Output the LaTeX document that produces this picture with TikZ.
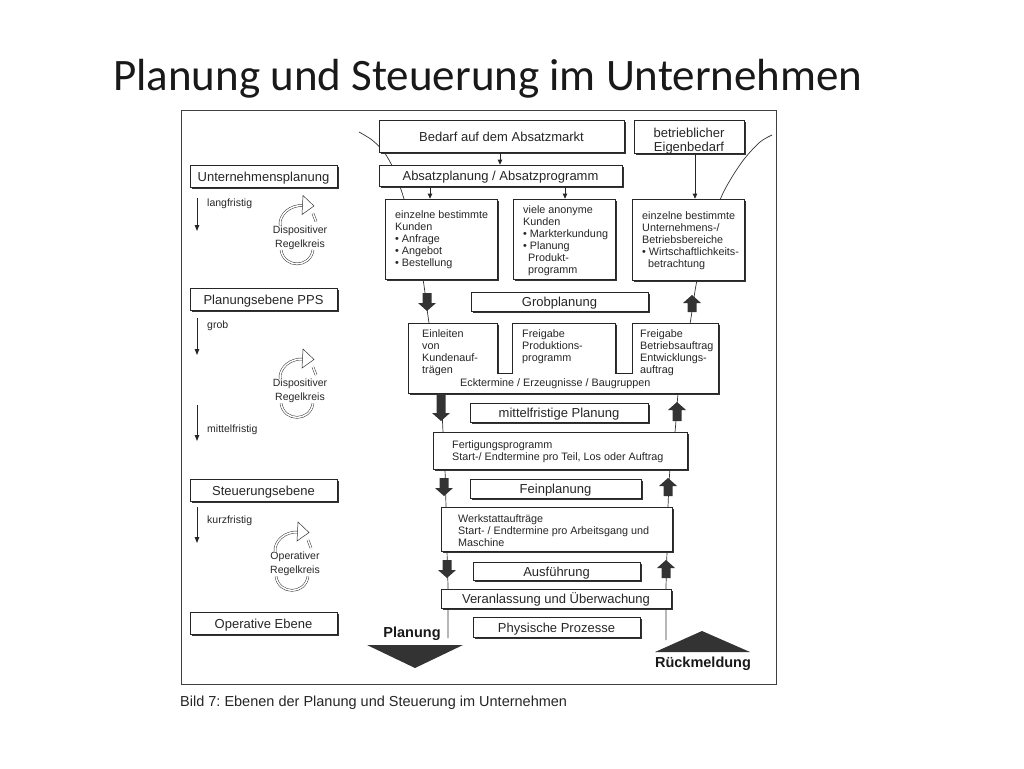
\documentclass[tikz,border=0pt]{standalone}
\usepackage{fontspec}
\setmainfont{Liberation Sans}
\newfontfamily\titlefont{Carlito}
\usetikzlibrary{arrows.meta,shadows}
\frenchspacing
\tikzset{
  box/.style={draw=black!85, line width=0.7pt, fill=white, inner sep=0pt,
    font=\fontsize{13}{14}\selectfont, text=black!85, text height=10.5pt, text depth=0pt,
    drop shadow={shadow xshift=1.8pt, shadow yshift=-1.8pt, fill=black!80, opacity=1}},
  lbl/.style={inner sep=0pt, anchor=west, align=left, text=black!85, font=\fontsize{10.8}{12}\selectfont},
  side/.style={inner sep=0pt, anchor=west, text=black!85, font=\fontsize{10.5}{12}\selectfont},
  cyctext/.style={inner sep=0pt, align=center, text=black!85, font=\fontsize{10.5}{14}\selectfont},
  funnel/.style={draw=black!80, line width=0.7pt},
  sarrow/.style={draw=black!85, line width=0.8pt, -{Triangle[length=5pt,width=4.5pt]}},
  larrow/.style={draw=black!85, line width=0.9pt, -{Triangle[length=6pt,width=4.5pt]}},
  blk/.style={fill=black!80},
  dbl/.style={draw=black!80, line width=0.5pt, double=white, double distance=1.5pt},
  big/.style={inner sep=0pt, text=black!90, font=\fontsize{14.5}{16}\selectfont\bfseries},
}
\newcommand{\bx}[6]{\node[box, minimum width={#4-#2}, minimum height={#5-#3}] (#1) at ({(#2+#4)/2},{(#3+#5)/2}) {#6};}
\newcommand{\blkdown}[3]{\fill[blk] ({#1-4.5},#2) -- ({#1+4.5},#2) -- ({#1+4.5},{#3-8}) -- ({#1+9},{#3-8}) -- (#1,#3) -- ({#1-9},{#3-8}) -- ({#1-4.5},{#3-8}) -- cycle;}
\newcommand{\blkup}[3]{\fill[blk] ({#1-4.5},#3) -- ({#1+4.5},#3) -- ({#1+4.5},{#2+8}) -- ({#1+9},{#2+8}) -- (#1,#2) -- ({#1-9},{#2+8}) -- ({#1-4.5},{#2+8}) -- cycle;}
\newcommand{\rkreis}[5]{%
  \node[cyctext] (#3) at (#1,#2) {#4\\#5};
  \draw[dbl] ({#1-20},{#2-12}) .. controls ({#1-21},{#2-23}) and ({#1-10},{#2-33}) .. ({#1+4},{#2-32});
  \draw[draw=black!80, line width=0.5pt, fill=white] ({#1+3},{#2-42}) -- ({#1+14},{#2-31.5}) -- ({#1+2},{#2-23}) -- cycle;
  \draw[dbl] ({#1+13},{#2-24}) -- ({#1+16},{#2-16});
  \draw[dbl] ({#1-19},{#2+12.5}) .. controls ({#1-16},{#2+31}) and ({#1+10},{#2+31}) .. ({#1+13},{#2+12.5});
}
\begin{document}
\begin{tikzpicture}[x=1pt,y=-1pt]
\useasboundingbox (0,0) rectangle (1024,768);
\fill[white] (0,0) rectangle (1024,768);

% title
\node[anchor=base west, inner sep=0pt, text=black!90] (title) at (113,90)
  {\titlefont\fontsize{45}{50}\selectfont Planung und Steuerung im Unternehmen};

% frame
\draw[draw=black!75, line width=1pt] (181,110) rectangle (776,684);

% funnel lines
\draw[funnel] plot[smooth] coordinates {(359,132) (372,140) (384,152) (394,170) (404,199) (415,240) (423,279) (429,323) (436,360) (441,395) (443,432) (445,470) (446,507) (447,551) (448,589) (448,638)};
\draw[funnel] plot[smooth] coordinates {(772,135) (760,142) (745,158) (732,177) (720,200) (708,240) (697,280) (690,324) (683,360) (678,394) (675,432) (670,469) (668,507) (667,551) (666,589) (666,640)};

% left column
\bx{unt}{190}{165}{337}{187}{Unternehmensplanung}
\bx{pps}{190}{288}{337}{310}{Planungsebene PPS}
\bx{steu}{190}{479}{337}{501}{Steuerungsebene}
\bx{oper}{190}{612}{337}{634}{Operative Ebene}

\coordinate (la1) at (197,198); \coordinate (lb1) at (197,231);
\coordinate (la2) at (197,318); \coordinate (lb2) at (197,355);
\coordinate (la3) at (197,405); \coordinate (lb3) at (197,441);
\coordinate (la4) at (197,507); \coordinate (lb4) at (197,543);
\draw[larrow] (la1) -- (lb1);
\draw[larrow] (la2) -- (lb2);
\draw[larrow] (la3) -- (lb3);
\draw[larrow] (la4) -- (lb4);
\node[side] (t1) at (207,204) {langfristig};
\node[side] (t2) at (207,326) {grob};
\node[side] (t3) at (207,430) {mittelfristig};
\node[side] (t4) at (207,521) {kurzfristig};

\rkreis{300}{237.5}{rk1}{Dispositiver}{Regelkreis}
\rkreis{300}{391}{rk2}{Dispositiver}{Regelkreis}
\rkreis{295}{564}{rk3}{Operativer}{Regelkreis}

% top boxes
\bx{bedarf}{379}{120}{624}{152}{Bedarf auf dem Absatzmarkt}
\bx{eigen}{634}{120}{744}{153}{}
\node[inner sep=0pt, align=center, text=black!85, font=\fontsize{13}{14}\selectfont] (eigent) at (689,141) {betrieblicher\\Eigenbedarf};
\bx{absatz}{379}{165}{622}{186}{Absatzplanung / Absatzprogramm}
\bx{kund1}{385}{199}{497}{279}{}
\bx{kund2}{513}{199}{615}{279}{}
\bx{kund3}{632}{199}{744}{280}{}
\node[lbl] (k1t) at (395,240) {einzelne bestimmte\\Kunden\\• Anfrage\\• Angebot\\• Bestellung};
\node[lbl] (k2t) at (523,241) {viele anonyme\\Kunden\\• Markterkundung\\• Planung\\\hspace*{5pt}Produkt-\\\hspace*{5pt}programm};
\node[lbl] (k3t) at (642,241) {einzelne bestimmte\\Unternehmens-/\\Betriebsbereiche\\• Wirtschaftlichkeits-\\\hspace*{6pt}betrachtung};

\coordinate (xa) at (500,0); \coordinate (xb) at (430,0);
\coordinate (xc) at (565,0); \coordinate (xd) at (695,0);
\draw[sarrow] (bedarf.south -| xa) -- (absatz.north -| xa);
\draw[sarrow] (absatz.south -| xb) -- (kund1.north -| xb);
\draw[sarrow] (absatz.south -| xc) -- (kund2.north -| xc);
\draw[sarrow] (eigen.south -| xd) -- (kund3.north -| xd);

% Grobplanung
\bx{grob}{471}{292}{648}{311}{Grobplanung}

% Einleiten shape
\begin{scope}[shift={(1.8,1.8)}]
\fill[black!80] (408,323) -- (497,323) -- (497,373) -- (512,373) -- (512,323) -- (615,323) -- (615,373) -- (632,373) -- (632,323) -- (718,323) -- (718,393) -- (408,393) -- cycle;
\end{scope}
\draw[draw=black!85, line width=0.7pt, fill=white] (408,323) -- (497,323) -- (497,373) -- (512,373) -- (512,323) -- (615,323) -- (615,373) -- (632,373) -- (632,323) -- (718,323) -- (718,393) -- (408,393) -- cycle;
\node[lbl] (e1) at (422,353) {Einleiten\\von\\Kundenauf-\\trägen};
\node[lbl] (e2) at (522,347) {Freigabe\\Produktions-\\programm};
\node[lbl] (e3) at (640,353) {Freigabe\\Betriebsauftrag\\Entwicklungs-\\auftrag};
\node[lbl] (e4) at (460,384) {Ecktermine / Erzeugnisse / Baugruppen};

% lower boxes
\bx{mittel}{470}{403}{648}{422}{mittelfristige Planung}
\bx{fert}{433}{432}{687}{469}{}
\node[lbl] (ft) at (452,451.5) {Fertigungsprogramm\\Start-/ Endtermine pro Teil, Los oder Auftrag};
\bx{fein}{470}{479}{641}{498}{Feinplanung}
\bx{werk}{441}{507}{672}{551}{}
\node[lbl] (wt) at (458,530.5) {Werkstattaufträge\\Start- / Endtermine pro Arbeitsgang und\\Maschine};
\bx{ausf}{473}{562}{640}{580}{Ausführung}
\bx{veran}{441}{589}{671}{608}{Veranlassung und Überwachung}
\bx{phys}{473}{617}{640}{637}{Physische Prozesse}

% block arrows
\blkdown{427}{293}{311}
\blkdown{441}{395}{421}
\blkdown{444}{478}{496}
\blkdown{447}{560}{578}
\blkup{692}{295}{312}
\blkup{677}{402}{421}
\blkup{668}{478}{496}
\blkup{666}{560}{578}

% bottom triangles and labels
\fill[blk] (367,645) -- (463,645) -- (415,668) -- cycle;
\fill[blk] (655,652) -- (750,652) -- (702,631) -- cycle;
\node[big] (planung) at (412,634) {Planung};
\node[big] (rueck) at (703,664) {Rückmeldung};

% caption
\node[anchor=base west, inner sep=0pt, text=black!85, font=\fontsize{14.5}{16}\selectfont] (caption) at (180,706) {Bild 7: Ebenen der Planung und Steuerung im Unternehmen};
\end{tikzpicture}
\end{document}
